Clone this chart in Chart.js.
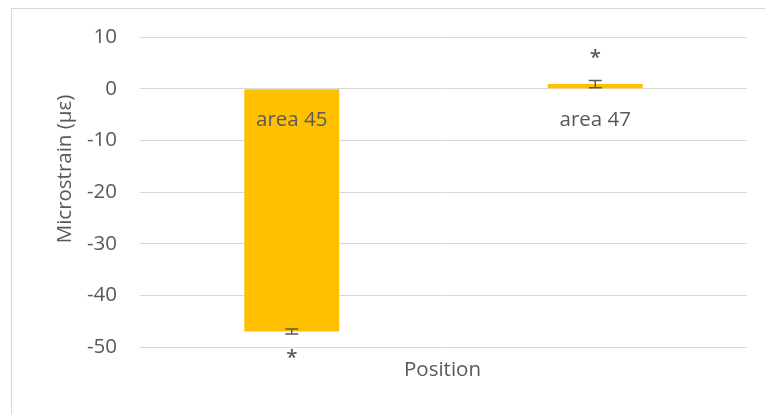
<!DOCTYPE html>
<html lang="en">
<head>
    <meta charset="UTF-8">
    <title>Microstrain by position</title>
    <style>
        html, body { margin: 0; padding: 0; background: #fff; overflow: hidden; }
        #myCanvas { display: block; }
    </style>
</head>
<body>

    <canvas id="myCanvas" width="765" height="414"></canvas>
    <script src="https://cdn.jsdelivr.net/npm/chart.js@4/dist/chart.umd.min.js" charset="utf-8"></script>
    <script>

        // data
        const positions = ['area 45', 'area 47'];
        const strain = [-47, 0.9];
        const strainErr = [0.5, 0.7];
        const marks = ['*', '*'];
        const yTicks = [10, 0, -10, -20, -30, -40, -50];

        const FONT = '"Open Sans", sans-serif';
        const GREY = '#595959';
        const SIZE = 20.5;

        // error bars, significance marks, category labels and axis titles
        const extras = {
            id: 'extras',
            beforeDraw(chart) {
                const c = chart.ctx;
                c.save();
                c.strokeStyle = '#d9d9d9';
                c.lineWidth = 1;
                c.strokeRect(11.5, 8.5, 800, 500);
                c.restore();
            },
            afterDatasetsDraw(chart) {
                const c = chart.ctx;
                const x = chart.scales.x, y = chart.scales.y;
                const area = chart.chartArea;
                c.save();
                c.strokeStyle = GREY;
                c.fillStyle = GREY;
                c.lineWidth = 1.5;
                c.textAlign = 'center';
                c.textBaseline = 'middle';
                strain.forEach((v, i) => {
                    const cx = x.getPixelForValue(i);
                    const top = y.getPixelForValue(v + strainErr[i]);
                    const bot = y.getPixelForValue(v - strainErr[i]);
                    c.beginPath();
                    c.moveTo(cx, top); c.lineTo(cx, bot);
                    c.moveTo(cx - 6.5, top); c.lineTo(cx + 6.5, top);
                    c.moveTo(cx - 6.5, bot); c.lineTo(cx + 6.5, bot);
                    c.stroke();

                    // asterisk beyond the end of the error bar
                    c.font = '600 ' + SIZE + 'px ' + FONT;
                    const sy = v < 0 ? bot + 24 : top - 22;
                    c.fillText(marks[i], cx, sy);

                    // category label sits under the zero line
                    c.font = SIZE + 'px ' + FONT;
                    c.fillText(positions[i], cx, y.getPixelForValue(0) + 31);
                });

                c.font = SIZE + 'px ' + FONT;
                c.fillText('Position', (area.left + area.right) / 2 - 1, 370);

                c.translate(65, 169);
                c.rotate(-Math.PI / 2);
                c.fillText('Microstrain (με)', 0, 0);
                c.restore();
            }
        };

        var ctx = document.getElementById('myCanvas').getContext('2d');
        var myChart = new Chart(ctx, {
            type: 'bar',
            data: {
                labels: positions,
                datasets: [{
                    label: 'Microstrain',
                    backgroundColor: '#FFC000',
                    borderWidth: 0,
                    data: strain,
                    barPercentage: 0.313,
                    categoryPercentage: 1
                }]
            },
            options: {
                responsive: false,
                animation: false,
                layout: { padding: { top: 37, right: 18, bottom: 67, left: 0 } },
                plugins: {
                    legend: { display: false },
                    tooltip: { enabled: false }
                },
                scales: {
                    x: { display: false },
                    y: {
                        min: -50,
                        max: 10,
                        afterFit(scale) { scale.width = 140; },
                        afterBuildTicks(scale) {
                            scale.ticks = yTicks.map(v => ({ value: v }));
                        },
                        border: { display: false },
                        grid: { color: '#d9d9d9', lineWidth: 1, drawTicks: false },
                        ticks: {
                            color: GREY,
                            padding: 23,
                            font: { family: FONT, size: SIZE }
                        }
                    }
                }
            },
            plugins: [extras]
        });
    </script>
</body>
</html>
